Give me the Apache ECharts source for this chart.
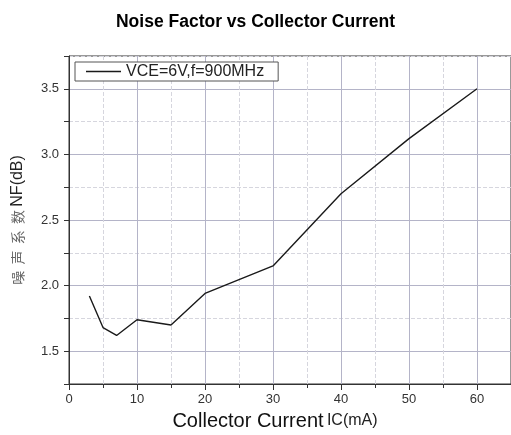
<!DOCTYPE html>
<html>
<head>
<meta charset="utf-8">
<script src="https://cdn.jsdelivr.net/npm/echarts@6/dist/echarts.min.js"></script>
<style>
  html, body { margin: 0; padding: 0; background: #fff; }
  #chart { width: 511px; height: 435px; }
</style>
</head>
<body>
<div id="chart"></div>
<script>
// collector current (mA) and noise factor (dB)
var current = [3, 5, 7, 10, 15, 20, 30, 40, 50, 60]
var noiseFactor = [1.92, 1.68, 1.62, 1.74, 1.70, 1.94, 2.15, 2.70, 3.12, 3.50]
var seriesName = 'VCE=6V,f=900MHz'

var majorColor = '#b4b4c8'
var minorColor = '#d6d6de'

var chart = echarts.init(document.getElementById('chart'))

var points = []
for (var i = 0; i < current.length; i++) {
  points.push([current[i], noiseFactor[i]])
}

chart.setOption({
  animation: false,
  textStyle: { fontFamily: 'Liberation Sans, Arial, sans-serif' },
  title: {
    text: 'Noise Factor vs Collector Current',
    left: 'center',
    top: 8,
    textStyle: { fontSize: 17.5, fontWeight: 'bold', color: '#000' }
  },
  legend: {
    left: 75,
    top: 62,
    padding: [1, 14, 1, 11],
    borderColor: '#555',
    borderWidth: 1,
    backgroundColor: '#fff',
    icon: 'rect',
    itemWidth: 35,
    itemHeight: 1.4,
    itemGap: 5,
    textStyle: { fontSize: 16, color: '#222', lineHeight: 17 },
    data: [seriesName]
  },
  grid: {
    left: 69,
    right: 0,
    top: 56,
    bottom: 51,
    outerBoundsMode: 'none',
    show: true,
    borderColor: '#333',
    borderWidth: 1
  },
  xAxis: {
    type: 'value',
    min: 0,
    max: 65,
    interval: 10,
    name: '{a|Collector Current} {b|IC(mA)}',
    nameLocation: 'middle',
    nameGap: 27,
    nameTextStyle: {
      padding: [0, 30, 0, 0],
      rich: {
        a: { fontSize: 20, color: '#111' },
        b: { fontSize: 16, color: '#222' }
      }
    },
    axisLine: { onZero: false, lineStyle: { color: '#333' } },
    axisTick: { inside: false, length: 6, lineStyle: { color: '#333' } },
    minorTick: { show: true, splitNumber: 2, length: 4, lineStyle: { color: '#333' } },
    axisLabel: {
      fontSize: 13,
      color: '#333',
      margin: 9,
      formatter: function (v) { return v % 10 === 0 ? String(v) : '' }
    },
    splitLine: { show: true, lineStyle: { color: majorColor, width: 1 } },
    minorSplitLine: { show: true, lineStyle: { color: minorColor, type: 'dashed' } }
  },
  yAxis: [{
    type: 'value',
    min: 1.25,
    max: 3.75,
    interval: 0.25,
    name: '{a|噪  声  系  数} {b|NF(dB)}',
    nameLocation: 'middle',
    nameGap: 43,
    nameRotate: 90,
    nameTextStyle: {
      rich: {
        a: { fontSize: 14, color: '#666', fontFamily: 'Noto Sans CJK SC' },
        b: { fontSize: 16, color: '#222' }
      }
    },
    axisLine: { show: true, onZero: false, lineStyle: { color: '#333' } },
    axisTick: { show: true, inside: false, length: 5, lineStyle: { color: '#333' } },
    axisLabel: {
      fontSize: 13,
      color: '#333',
      margin: 10,
      formatter: function (v) {
        return Math.abs(v * 2 - Math.round(v * 2)) < 1e-6 ? v.toFixed(1) : ''
      }
    },
    splitLine: { show: true, lineStyle: { color: ['transparent', majorColor], width: 1 } }
  }, {
    type: 'value',
    position: 'left',
    min: 1.25,
    max: 3.75,
    interval: 0.25,
    axisLine: { show: false },
    axisTick: { show: false },
    axisLabel: { show: false },
    splitLine: { show: true, lineStyle: { color: [minorColor, 'transparent'], type: 'dashed' } }
  }],
  series: [{
    name: seriesName,
    type: 'line',
    symbol: 'none',
    lineStyle: { color: '#1a1a1a', width: 1.4 },
    itemStyle: { color: '#1a1a1a' },
    data: points
  }]
})
</script>
</body>
</html>
